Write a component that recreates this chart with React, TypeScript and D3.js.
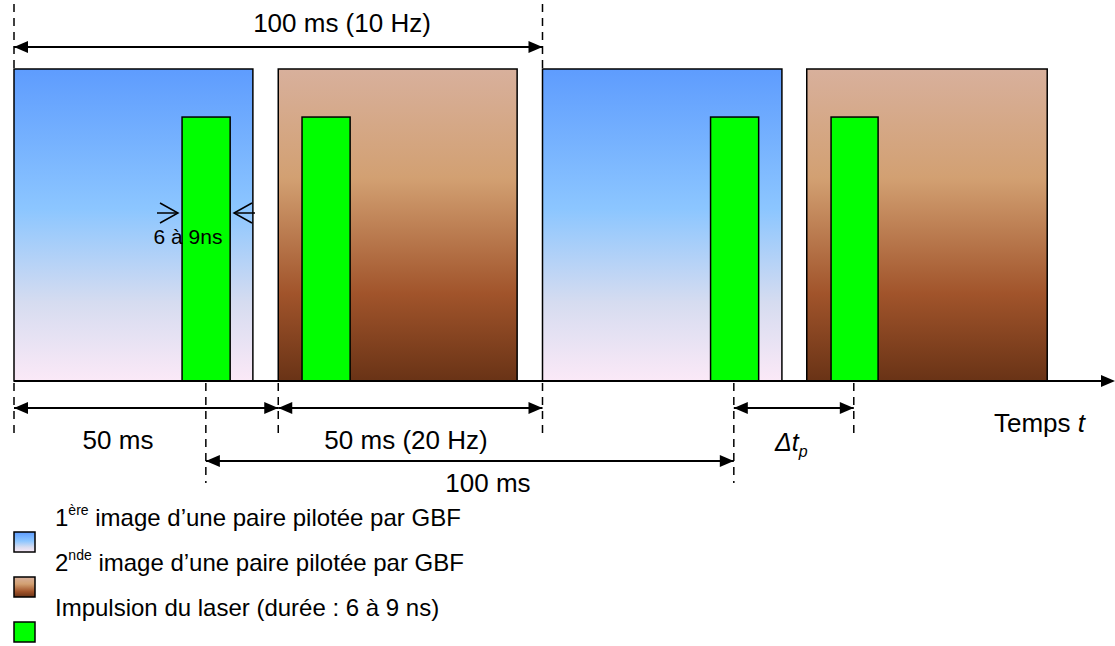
import React from "react";
import * as d3 from "d3";

// ---- data (time in ms) ----
const frameStarts = [0, 50, 100, 150];
const frameEnds = [45.2, 95.2, 145.3, 195.5];
const frameKinds = ["first", "second", "first", "second"];
const pulseStarts = [31.8, 54.5, 131.8, 154.6];
const pulseEnds = [40.9, 63.6, 140.9, 163.5];
const frameLevel = 1;
const pulseLevel = 0.846;

// dimension annotations
const dimFrom = [0, 0, 50, 36.3, 136.2];
const dimTo = [100, 50, 100, 136.2, 158.9];
const dimRow = ["top", "bottom", "bottom", "second", "bottom"];
const dimLabels = ["100 ms (10 Hz)", "50 ms", "50 ms (20 Hz)", "100 ms", "Δt_p"];

const legendLabels = [
  { main: "1", sup: "ère", rest: " image d’une paire pilotée par GBF" },
  { main: "2", sup: "nde", rest: " image d’une paire pilotée par GBF" },
  { main: "", sup: "", rest: "Impulsion du laser (durée : 6 à 9 ns)" },
];
const legendKinds = ["first", "second", "pulse"];

const W = 1115;
const H = 646;
const FONT = "'Liberation Sans', Arial, Helvetica, sans-serif";

export default function App() {
  const x = d3.scaleLinear().domain([0, 100]).range([14, 542.5]);
  const y = d3.scaleLinear().domain([0, 1]).range([381, 69]);
  const rowY: Record<string, number> = { top: 47, bottom: 408, second: 461 };

  const fillFor = (k: string) =>
    k === "first" ? "url(#gBlue)" : k === "second" ? "url(#gBrown)" : "#00ff00";

  const arrowHead = (tipX: number, yy: number, dir: number, key: string) => {
    const L = 14, hw = 6;
    const p = d3.path();
    p.moveTo(tipX, yy);
    p.lineTo(tipX - dir * L, yy - hw);
    p.lineTo(tipX - dir * L, yy + hw);
    p.closePath();
    return <path key={key} d={p.toString()} fill="#000" />;
  };

  const dashed = (xx: number, y1: number, y2: number, key: string) => (
    <line key={key} x1={xx} x2={xx} y1={y1} y2={y2} stroke="#000" strokeWidth={1.5} strokeDasharray="8,6" />
  );

  const dims = dimFrom.map((f, i) => {
    const x1 = x(f), x2 = x(dimTo[i]);
    const yy = rowY[dimRow[i]];
    return (
      <g key={"dim" + i}>
        <line x1={x1} x2={x2} y1={yy} y2={yy} stroke="#000" strokeWidth={2} />
        {arrowHead(x1, yy, -1, "a" + i)}
        {arrowHead(x2, yy, 1, "b" + i)}
      </g>
    );
  });

  const guideTop = [0, 100].map((t, i) => dashed(x(t), 4, 69, "gt" + i));
  const guideBottom = [0, 50, 100].map((t, i) => dashed(x(t), 383, 436, "gb" + i));
  const guidePulse = [
    dashed(x(36.3), 383, 483, "gp0"),
    dashed(x(136.2), 383, 483, "gp1"),
    dashed(x(158.9), 383, 437, "gp2"),
  ];

  return (
    <svg width={W} height={H} style={{ position: "absolute", left: 0, top: 0, background: "#fff" }} fontFamily={FONT}>
      <defs>
        <linearGradient id="gBlue" x1="0" y1="0" x2="0" y2="1">
          <stop offset="0" stopColor="#5e9cfe" />
          <stop offset="0.45" stopColor="#8cc6ff" />
          <stop offset="0.75" stopColor="#d6dcf0" />
          <stop offset="1" stopColor="#fbe9f7" />
        </linearGradient>
        <linearGradient id="gBrown" x1="0" y1="0" x2="0" y2="1">
          <stop offset="0" stopColor="#d8b09c" />
          <stop offset="0.35" stopColor="#d2a072" />
          <stop offset="0.72" stopColor="#a1542b" />
          <stop offset="1" stopColor="#693316" />
        </linearGradient>
      </defs>

      {frameStarts.map((s, i) => (
        <rect key={"f" + i} x={x(s)} y={y(frameLevel)} width={x(frameEnds[i]) - x(s)} height={y(0) - y(frameLevel)}
          fill={fillFor(frameKinds[i])} stroke="#000" strokeWidth={1.5} />
      ))}
      {pulseStarts.map((s, i) => (
        <rect key={"p" + i} x={x(s)} y={y(pulseLevel)} width={x(pulseEnds[i]) - x(s)} height={y(0) - y(pulseLevel)}
          fill="#00ff00" stroke="#000" strokeWidth={1.5} />
      ))}

      <line x1={x(0)} x2={W - 12} y1={y(0)} y2={y(0)} stroke="#000" strokeWidth={2} />
      {arrowHead(W, y(0), 1, "axis")}

      {guideTop}
      {guideBottom}
      {guidePulse}
      {dims}

      {/* pulse width annotation */}
      <g stroke="#000" strokeWidth={1.5} fill="none">
        <line x1={157} x2={178} y1={213} y2={213} />
        <polyline points="160,203 178,213 160,223" />
        <line x1={234} x2={255} y1={213} y2={213} />
        <polyline points="252,203 234,213 252,223" />
      </g>
      <text x={188} y={244} fontSize={21} textAnchor="middle" fill="#000">6 à 9ns</text>

      <text x={342} y={32} fontSize={26} textAnchor="middle">{dimLabels[0]}</text>
      <text x={118} y={449} fontSize={26} textAnchor="middle">{dimLabels[1]}</text>
      <text x={406} y={449} fontSize={26} textAnchor="middle">{dimLabels[2]}</text>
      <text x={488} y={492} fontSize={26} textAnchor="middle">{dimLabels[3]}</text>
      <text x={775} y={451} fontSize={25} fontStyle="italic">
        Δt<tspan fontSize={16} dy={6}>p</tspan>
      </text>
      <text x={994} y={432} fontSize={26}>
        Temps <tspan fontStyle="italic">t</tspan>
      </text>

      {legendLabels.map((l, i) => {
        const ty = 526 + i * 45;
        return (
          <g key={"lg" + i}>
            <rect x={14} y={ty + 6} width={21} height={20} fill={fillFor(legendKinds[i])} stroke="#000" strokeWidth={1.5} />
            <text x={55} y={ty} fontSize={24}>
              {l.main}
              {l.sup ? <tspan fontSize={14} dy={-11}>{l.sup}</tspan> : null}
              {l.sup ? <tspan dy={11}>{l.rest}</tspan> : <tspan>{l.rest}</tspan>}
            </text>
          </g>
        );
      })}
    </svg>
  );
}
